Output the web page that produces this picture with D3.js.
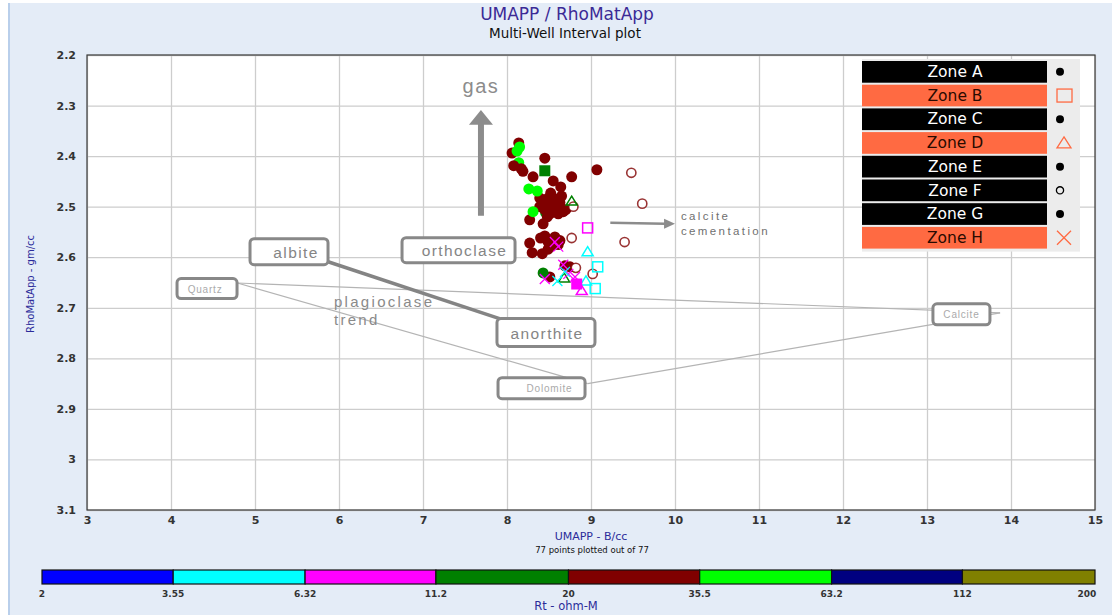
<!DOCTYPE html>
<html>
<head>
<meta charset="utf-8">
<script src="https://cdn.jsdelivr.net/npm/d3@7"></script>
<style>
body{margin:0;background:#fff;}
svg{display:block;font-family:"DejaVu Sans",Verdana,sans-serif;}
</style>
</head>
<body>
<svg id="chart" width="1112" height="615"></svg>
<script>
// --- data ---
const xTickValues = [3,4,5,6,7,8,9,10,11,12,13,14,15];
const yTickValues = [2.2,2.3,2.4,2.5,2.6,2.7,2.8,2.9,3.0,3.1];

const zoneNames = ["Zone A","Zone B","Zone C","Zone D","Zone E","Zone F","Zone G","Zone H"];
const zoneCell  = ["black","orange","black","orange","black","black","black","orange"];
const zoneSym   = ["dot","square","dot","tri","dot","ring","dot","x"];

const rtBreaks = [2,3.55,6.32,11.2,20,35.5,63.2,112,200];
const rtColors = ["#0000ff","#00ffff","#ff00ff","#008000","#800000","#00ff00","#000080","#808000"];

// points (drawing order matters for overlaps)
const umapp = [8.14,8.46,
  8.14,8.06,8.45,8.08,8.17,9.07,8.31,8.55,8.77,8.64,8.39,8.49,8.58,8.63,8.55,8.45,8.57,8.67,8.51,
  8.27,8.43,8.45,8.57,8.27,8.49,8.61,8.30,8.42,8.75,8.51,8.69,8.52,8.65,8.44,8.54,8.61,8.48,8.39,
  8.40,8.54,8.19,8.63,8.70,8.49,8.58,
  8.15,8.12,8.26,8.36,8.31,8.43,
  9.48,9.61,8.79,8.77,9.40,8.82,9.02,
  8.77,8.68,8.96,8.94,8.89,
  8.96,9.08,9.05,8.45,8.83,
  8.57,8.61,8.67,8.45,8.81,8.73,8.69,8.60];
const rhomat = [2.413,2.512,
  2.374,2.394,2.404,2.419,2.425,2.427,2.441,2.449,2.441,2.461,2.483,2.483,2.485,2.492,2.498,2.506,2.506,2.510,2.514,
  2.526,2.534,2.558,2.560,2.572,2.570,2.575,2.591,2.593,2.619,2.639,2.617,2.473,2.479,2.494,2.489,2.514,2.520,2.500,
  2.562,2.577,2.430,2.567,2.506,2.584,2.496,
  2.382,2.390,2.465,2.469,2.510,2.631,
  2.433,2.494,2.500,2.562,2.570,2.621,2.633,
  2.489,2.641,2.589,2.647,2.666,
  2.542,2.619,2.662,2.429,2.653,
  2.570,2.579,2.615,2.643,2.639,2.633,2.629,2.647];
const rt = [45,15,
  27,27,27,27,27,27,27,27,27,27,27,27,27,27,27,27,27,27,27,
  27,27,27,27,27,27,27,27,27,27,27,27,27,27,27,27,27,27,27,
  27,27,27,27,27,27,27,
  45,45,45,45,45,15,
  27,27,27,27,27,27,27,
  15,15,5,5,8,
  8,5,5,15,8,
  8,8,8,8,8,8,5,5];
const sym = ["dot","dot",
  "dot","dot","dot","dot","dot","dot","dot","dot","dot","dot","dot","dot","dot","dot","dot","dot","dot","dot","dot",
  "dot","dot","dot","dot","dot","dot","dot","dot","dot","dot","dot","dot","dot","dot","dot","dot","dot","dot","dot",
  "dot","dot","dot","dot","dot","dot","dot",
  "dot","dot","dot","dot","dot","dot",
  "ring","ring","ring","ring","ring","ring","ring",
  "tri","tri","tri","tri","tri",
  "square","square","square","solidSquare","solidSquare",
  "x","x","x","x","x","x","x","x"];

// mineral end points and annotation labels (data units)
const minerals = {quartz:[4.79,2.651], calcite:[13.87,2.710], dolomite:[8.96,2.850],
                  albite:[5.87,2.609], anorthite:[7.92,2.722]};
const boxLabels = [
  {text:"albite",     u:5.405, r:2.589, w:78,  h:26, big:true,  dx:7},
  {text:"orthoclase", u:7.423, r:2.586, w:113, h:25, big:true,  dx:6},
  {text:"anorthite",  u:8.464, r:2.749, w:98,  h:28, big:true,  dx:1},
  {text:"Quartz",     u:4.429, r:2.662, w:60,  h:20, big:false, dx:-2},
  {text:"Dolomite",   u:8.411, r:2.859, w:87,  h:21, big:false, dx:8},
  {text:"Calcite",    u:13.41, r:2.713, w:57,  h:21, big:false, dx:0}
];

// --- layout ---
const svg = d3.select("#chart");
const plotL = 87, plotR = 1095, plotT = 55, plotB = 510;
const x = d3.scaleLinear().domain([3,15]).range([plotL,plotR]);
const y = d3.scaleLinear().domain([2.2,3.1]).range([plotT,plotB]);
const color = d3.scaleThreshold().domain(rtBreaks.slice(1,-1)).range(rtColors);
const orange = "#ff6a42";

svg.append("rect").attr("width",1112).attr("height",615).attr("fill","#fff");
svg.append("rect").attr("x",8).attr("y",3).attr("width",1104).attr("height",612).attr("fill","#e4ecf7");
svg.append("line").attr("x1",9).attr("x2",9).attr("y1",3).attr("y2",615).attr("stroke","#b9cfeb").attr("stroke-width",2);

// titles
svg.append("text").attr("x",567).attr("y",20).attr("text-anchor","middle")
  .attr("font-size",17).attr("fill","#3b2a96").text("UMAPP / RhoMatApp");
svg.append("text").attr("x",565).attr("y",38).attr("text-anchor","middle")
  .attr("font-size",13.5).attr("fill","#111").text("Multi-Well Interval plot");

// plot background + grid
svg.append("rect").attr("x",plotL).attr("y",plotT).attr("width",plotR-plotL).attr("height",plotB-plotT).attr("fill","#fff");

const gridX = svg.append("g").attr("transform",`translate(0,${plotB})`)
  .call(d3.axisBottom(x).tickValues(xTickValues).tickSize(-(plotB-plotT)).tickFormat(""));
const gridY = svg.append("g").attr("transform",`translate(${plotL},0)`)
  .call(d3.axisLeft(y).tickValues(yTickValues).tickSize(-(plotR-plotL)).tickFormat(""));
[gridX,gridY].forEach(g=>{
  g.select(".domain").remove();
  g.selectAll("line").attr("stroke","#cdcdcd").attr("stroke-width",1.3);
});

// tick labels
const axX = svg.append("g").attr("transform",`translate(0,${plotB})`)
  .call(d3.axisBottom(x).tickValues(xTickValues).tickSize(0).tickPadding(6).tickFormat(d3.format("d")));
const axY = svg.append("g").attr("transform",`translate(${plotL},0)`)
  .call(d3.axisLeft(y).tickValues(yTickValues).tickSize(0).tickPadding(11).tickFormat(d=>String(+d.toFixed(1))));
[axX,axY].forEach(g=>{
  g.select(".domain").remove();
  g.selectAll("text").attr("font-family","DejaVu Sans, Verdana, sans-serif")
    .attr("font-size",11).attr("font-weight","bold").attr("fill","#333");
});

svg.append("text").attr("x",591).attr("y",540).attr("text-anchor","middle")
  .attr("font-size",11).attr("fill","#2b2b9a").text("UMAPP - B/cc");
svg.append("text").attr("x",592).attr("y",553).attr("text-anchor","middle")
  .attr("font-size",8.5).attr("fill","#111").text("77 points plotted out of 77");
svg.append("text").attr("transform",`translate(34,284) rotate(-90)`).attr("text-anchor","middle")
  .attr("font-size",10).attr("fill","#2b2b9a").text("RhoMatApp - gm/cc");

// mineral lines
const annot = svg.append("g");
const seg = (a,b,w,c)=>annot.append("line")
  .attr("x1",x(a[0])).attr("y1",y(a[1])).attr("x2",x(b[0])).attr("y2",y(b[1]))
  .attr("stroke",c).attr("stroke-width",w);
seg(minerals.quartz,minerals.calcite,1.2,"#b4b4b4");
seg(minerals.quartz,minerals.dolomite,1.2,"#b4b4b4");
seg(minerals.dolomite,minerals.calcite,1.2,"#b4b4b4");
seg(minerals.albite,minerals.anorthite,3.5,"#848484");

// plagioclase trend text
annot.append("text").attr("x",x(5.94)).attr("y",y(2.699)).attr("font-family","Liberation Sans, Arial")
  .attr("font-size",15).attr("letter-spacing",2.3).attr("fill","#8a8a8a").text("plagioclase");
annot.append("text").attr("x",x(5.94)).attr("y",y(2.735)).attr("font-family","Liberation Sans, Arial")
  .attr("font-size",15).attr("letter-spacing",2.3).attr("fill","#8a8a8a").text("trend");

// gas arrow
const gx = x(7.69);
annot.append("line").attr("x1",gx).attr("x2",gx).attr("y1",y(2.518)).attr("y2",y(2.33))
  .attr("stroke","#8c8c8c").attr("stroke-width",6);
annot.append("path").attr("fill","#8c8c8c")
  .attr("d",`M${gx},${y(2.309)} L${gx+12},${y(2.338)} L${gx-12},${y(2.338)}Z`);
annot.append("text").attr("x",gx).attr("y",y(2.275)).attr("text-anchor","middle")
  .attr("font-family","Liberation Sans, Arial").attr("font-size",20).attr("letter-spacing",1.5)
  .attr("fill","#8c8c8c").text("gas");

// calcite cementation arrow
const cy0 = y(2.532);
annot.append("line").attr("x1",x(9.23)).attr("x2",x(9.88)).attr("y1",cy0).attr("y2",cy0+1)
  .attr("stroke","#8c8c8c").attr("stroke-width",2.5);
annot.append("path").attr("fill","#8c8c8c")
  .attr("d",`M${x(10.0)},${cy0+1} L${x(9.87)},${cy0-4} L${x(9.87)},${cy0+6}Z`);
annot.append("text").attr("x",x(10.07)).attr("y",y(2.527)).attr("font-family","Liberation Sans, Arial")
  .attr("font-size",11.5).attr("letter-spacing",2.4).attr("fill","#707070").text("calcite");
annot.append("text").attr("x",x(10.07)).attr("y",y(2.557)).attr("font-family","Liberation Sans, Arial")
  .attr("font-size",11.5).attr("letter-spacing",2.4).attr("fill","#707070").text("cementation");

// label boxes
const boxes = annot.selectAll("g.box").data(boxLabels).join("g").attr("class","box")
  .attr("transform",d=>`translate(${x(d.u)},${y(d.r)})`);
boxes.append("rect").attr("x",d=>-d.w/2).attr("y",d=>-d.h/2).attr("width",d=>d.w).attr("height",d=>d.h)
  .attr("rx",4).attr("fill","#fff").attr("stroke","#888").attr("stroke-width",3);
boxes.append("text").attr("x",d=>d.dx).attr("y",d=>d.big?6:4).attr("text-anchor","middle")
  .attr("font-family","Liberation Sans, Arial")
  .attr("font-size",d=>d.big?15.5:10).attr("letter-spacing",d=>d.big?1.4:0.8)
  .attr("fill",d=>d.big?"#858585":"#aaa").text(d=>d.text);

// plot frame
svg.append("rect").attr("x",plotL).attr("y",plotT).attr("width",plotR-plotL).attr("height",plotB-plotT)
  .attr("fill","none").attr("stroke","#3a3a3a").attr("stroke-width",1.2);

// data points
function marker(g,s,c){
  if(s==="dot") g.append("circle").attr("r",5.5).attr("fill",c);
  else if(s==="ring") g.append("circle").attr("r",4.6).attr("fill","#fff").attr("stroke",c).attr("stroke-opacity",0.8).attr("stroke-width",1.6);
  else if(s==="square") g.append("rect").attr("x",-5).attr("y",-5).attr("width",10).attr("height",10).attr("fill","none").attr("stroke",c).attr("stroke-width",1.5);
  else if(s==="solidSquare") g.append("rect").attr("x",-5.5).attr("y",-5.5).attr("width",11).attr("height",11).attr("fill",c);
  else if(s==="tri") g.append("path").attr("d","M0,-5 L5.5,4 L-5.5,4Z").attr("fill","none").attr("stroke",c).attr("stroke-width",1.5);
  else if(s==="x") g.append("path").attr("d","M-5,-5L5,5M-5,5L5,-5").attr("stroke",c).attr("stroke-width",1.3);
}
const pts = svg.append("g");
umapp.forEach((u,i)=>{
  const g = pts.append("g").attr("transform",`translate(${x(u)},${y(rhomat[i])})`);
  marker(g,sym[i],color(rt[i]));
});

// legend
const lg = svg.append("g");
const rowH = 23.7, lx = 862, ly = 61;
lg.append("rect").attr("x",lx).attr("y",ly-2).attr("width",218).attr("height",rowH*8+3).attr("fill","#ececec");
zoneNames.forEach((z,i)=>{
  const yy = ly + i*rowH;
  lg.append("rect").attr("x",lx).attr("y",yy).attr("width",185).attr("height",rowH-2)
    .attr("fill",zoneCell[i]==="black"?"#000":orange);
  lg.append("text").attr("x",lx+93).attr("y",yy+16).attr("text-anchor","middle")
    .attr("font-size",15.5).attr("fill",zoneCell[i]==="black"?"#fff":"#2a0a00").text(z);
  const g = lg.append("g").attr("transform",`translate(${1060},${yy+rowH/2-1})`);
  const s = zoneSym[i];
  if(s==="dot") g.append("circle").attr("r",4).attr("fill","#000");
  else if(s==="ring") g.append("circle").attr("r",3.6).attr("fill","none").attr("stroke","#000").attr("stroke-width",1.3);
  else if(s==="square") g.append("rect").attr("x",-3).attr("y",-6.5).attr("width",15).attr("height",13).attr("fill","none").attr("stroke",orange).attr("stroke-width",1.3);
  else if(s==="tri") g.append("path").attr("d","M4,-6 L11,5 L-3,5Z").attr("fill","none").attr("stroke",orange).attr("stroke-width",1.3);
  else if(s==="x") g.append("path").attr("d","M-3,-7L11,7M-3,7L11,-7").attr("stroke",orange).attr("stroke-width",1.3);
});

// Rt colour bar
const rtScale = d3.scaleLog().domain([2,200]).range([42,1095]);
const bar = svg.append("g");
rtColors.forEach((c,i)=>{
  bar.append("rect").attr("x",rtScale(rtBreaks[i])).attr("y",570)
    .attr("width",rtScale(rtBreaks[i+1])-rtScale(rtBreaks[i])).attr("height",14)
    .attr("fill",c).attr("stroke","#111").attr("stroke-width",1.2);
});
rtBreaks.forEach((b,i)=>{
  bar.append("text").attr("x",rtScale(b)+(i===rtBreaks.length-1?-8:0)).attr("y",597)
    .attr("text-anchor","middle").attr("font-size",9).attr("font-weight","bold").attr("fill","#333")
    .text(b);
});
svg.append("text").attr("x",566).attr("y",610).attr("text-anchor","middle")
  .attr("font-size",11.5).attr("fill","#2b2b9a").text("Rt - ohm-M");
</script>
</body>
</html>
